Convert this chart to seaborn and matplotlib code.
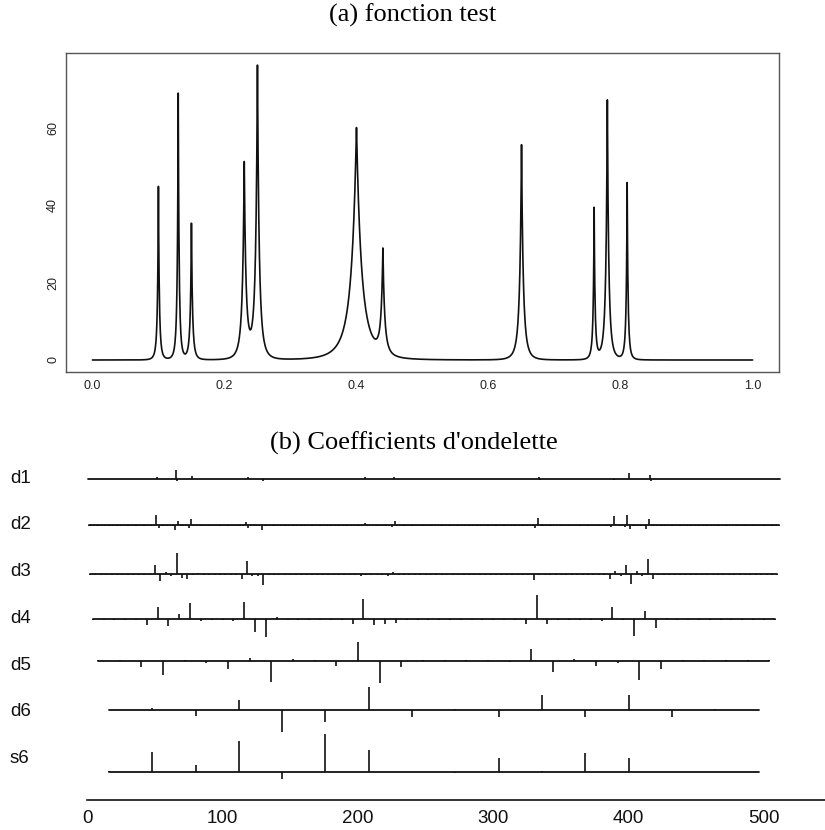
import numpy as np
import pandas as pd
import matplotlib
matplotlib.use("Agg")
import matplotlib.pyplot as plt
import matplotlib.transforms as mtransforms
import seaborn as sns

# ---------------- (a) test function : peaks ----------------
peak_pos = [0.10, 0.13, 0.15, 0.23, 0.25, 0.40, 0.44, 0.65, 0.76, 0.78, 0.81]
peak_height = [44.8, 68.8, 35.2, 50.3, 75.5, 60.0, 26.9, 55.6, 39.0, 67.1, 45.7]
peak_width = [0.005, 0.005, 0.006, 0.01, 0.01, 0.03, 0.01, 0.01, 0.005, 0.008, 0.005]
xticks_a = [0.0, 0.2, 0.4, 0.6, 0.8, 1.0]
yticks_a = [0, 20, 40, 60]

# ---------------- (b) wavelet coefficients (spike heights, sign = direction) ----
levels = ["d1", "d2", "d3", "d4", "d5", "d6", "s6"]
n_coef = [512, 256, 128, 64, 32, 16, 16]
spacing = [1, 2, 4, 8, 16, 32, 32]
small_default = [0.0, -1.0, -1.5, -1.0, 1.2, 1.0, 0.5]

d1_pos = [51, 65, 66, 77, 118, 129, 205, 226, 333, 334, 389, 400, 415, 416]
d1_val = [2, 9, -2, 3, 2, -2, 1.5, 1.5, 2, -1, -1, 5.5, 4, -2]

d2_pos = [51, 53, 65, 67, 75, 77, 117, 119, 129, 205, 225, 227, 331, 333,
          387, 389, 391, 397, 399, 401, 413, 415]
d2_val = [10, -3, -5, 4, -3, 6, 3, -3, -5, 2, -2, 4, -3, 7,
          -2, 9, 1, -2, 10, -4, -4, 6]

d3_pos = [50, 54, 58, 62, 66, 70, 74, 82, 114, 118, 122, 126, 130, 202, 222,
          226, 330, 386, 390, 394, 398, 402, 406, 410, 414, 418]
d3_val = [9, -7, 2, -2, 20.5, -4, -5, 1, -5, 13, -2, -2, -11.5, -2, -2,
          2, -6, -5, 3, -2, 9, -10.5, 3, -2, 15, -5]

d4_pos = [44, 52, 60, 68, 76, 84, 108, 116, 124, 132, 140, 196, 204, 212, 220,
          228, 324, 332, 340, 380, 388, 404, 412, 420, 428]
d4_val = [-6, 12, -7, 5, 16, -2, -2, 17, -12.5, -17.5, 2, -5, 20.5, -6, -4.5,
          -4, -5, 24, -5, -2, 12, -17, 8, -9, 1]

d5_pos = [24, 40, 56, 72, 88, 104, 120, 136, 152, 168, 184, 200, 216, 232, 248,
          312, 328, 344, 360, 376, 392, 408, 424, 440]
d5_val = [1, -6, -14, 1, -2, -8, 3, -20.5, 2, 1, -5, 19, -22, -6, 1,
          -1, 12, -10.5, 2, -5, -2, -19, -8, 1]

d6_pos = [16, 48, 80, 112, 144, 176, 208, 240, 272, 304, 336, 368, 400, 432, 464, 496]
d6_val = [0, 2, -6, 10.5, -21.5, -11.5, 23, -7, 1, -6.5, 15, -7, 15, -7, 1, 0]

s6_pos = [16, 48, 80, 112, 144, 176, 208, 240, 272, 304, 336, 368, 400, 432, 464, 496]
s6_val = [1, 20, 7.5, 31.5, -6.5, 38.5, 22, 0.5, -1, 14.5, 1, 19, 14, 0.5, 0.5, 0]

xticks_b = [0, 100, 200, 300, 400, 500]

level_pos = [d1_pos, d2_pos, d3_pos, d4_pos, d5_pos, d6_pos, s6_pos]
level_val = [d1_val, d2_val, d3_val, d4_val, d5_val, d6_val, s6_val]

# ---------------- style ----------------
sns.set_theme(style="white")
plt.rcParams["font.family"] = ["Liberation Sans", "DejaVu Sans"]

W, H = 825, 830
fig = plt.figure(figsize=(W / 100, H / 100), dpi=100)

# ---------------- panel (a) ----------------
t = np.linspace(0.0, 1.0, 2001)
f = np.zeros_like(t)
for p, h, w in zip(peak_pos, peak_height, peak_width):
    f += h * (1.0 + np.abs(t - p) / w) ** (-4)
df_a = pd.DataFrame({"t": t, "f": f})

ax1 = fig.add_axes([66 / W, 1 - 372 / H, (779 - 66) / W, (372 - 53) / H])
sns.lineplot(data=df_a, x="t", y="f", ax=ax1, color="#111111", lw=1.2,
             estimator=None, sort=False)
ax1.set_xlim(-0.04, 1.04)
ax1.set_ylim(-3.1, 79.3)
ax1.set_xticks(xticks_a)
ax1.set_xticklabels([f"{v:.1f}" for v in xticks_a])
ax1.set_yticks(yticks_a)
ax1.set_yticklabels([str(v) for v in yticks_a])
ax1.set_xlabel("")
ax1.set_ylabel("")
for s in ax1.spines.values():
    s.set_visible(True)
    s.set_color("#555555")
    s.set_linewidth(1.0)
ax1.tick_params(axis="both", direction="out", length=4, width=0.8,
                color="#333333", labelsize=9, labelcolor="#222222")
ax1.tick_params(axis="x", pad=2)
ax1.tick_params(axis="y", pad=1)
for lab in ax1.get_yticklabels():
    lab.set_rotation(90)
    lab.set_va("center")

fig.text(0.5, 1 - 15 / H, "(a) fonction test", ha="center", va="center",
         family=["Liberation Serif", "DejaVu Serif"], fontsize=19, color="#000000")

# ---------------- panel (b) ----------------
ax2 = fig.add_axes([0, 1 - 800 / H, 1, (800 - 455) / H])
ax2.set_xlim(-64.5, 545.1)
ax2.set_ylim(-324.5, 20.5)
row_gap = 46.75

lab_tr = mtransforms.blended_transform_factory(ax2.transAxes, ax2.transData)
for i, (name, n, sp, dflt, pos, val) in enumerate(
        zip(levels, n_coef, spacing, small_default, level_pos, level_val)):
    coef = np.full(n, dflt, dtype=float)
    idx = (np.array(pos) // sp).astype(int)
    coef[idx] = val
    x = sp * (np.arange(n) + 0.5)
    centre = -row_gap * i
    base = centre - (max(coef.max(), 0) + min(coef.min(), 0)) / 2.0
    sns.lineplot(x=[x[0], x[-1]], y=[base, base], ax=ax2, color="#111111",
                 lw=1.3, estimator=None)
    ax2.vlines(x, base, base + coef, color="#111111", lw=1.2)
    ax2.text(10 / W, centre - 2.5, name, transform=lab_tr, ha="left",
             va="center", fontsize=13.5, color="#111111")

ax2.set_xticks(xticks_b)
ax2.set_xticklabels([str(v) for v in xticks_b])
ax2.set_yticks([])
ax2.set_xlabel("")
ax2.set_ylabel("")
for k in ["top", "left", "right"]:
    ax2.spines[k].set_visible(False)
ax2.spines["bottom"].set_visible(True)
ax2.spines["bottom"].set_color("#111111")
ax2.spines["bottom"].set_linewidth(1.2)
ax2.spines["bottom"].set_bounds(0, 545.1)
ax2.tick_params(axis="x", direction="out", length=5, width=1.1,
                color="#111111", labelsize=13.5, labelcolor="#111111", pad=2)

fig.text(413.5 / W, 1 - 443 / H, "(b) Coefficients d'ondelette", ha="center",
         va="center", family=["Liberation Serif", "DejaVu Serif"], fontsize=19,
         color="#000000")

fig.savefig("out.png", dpi=100)
